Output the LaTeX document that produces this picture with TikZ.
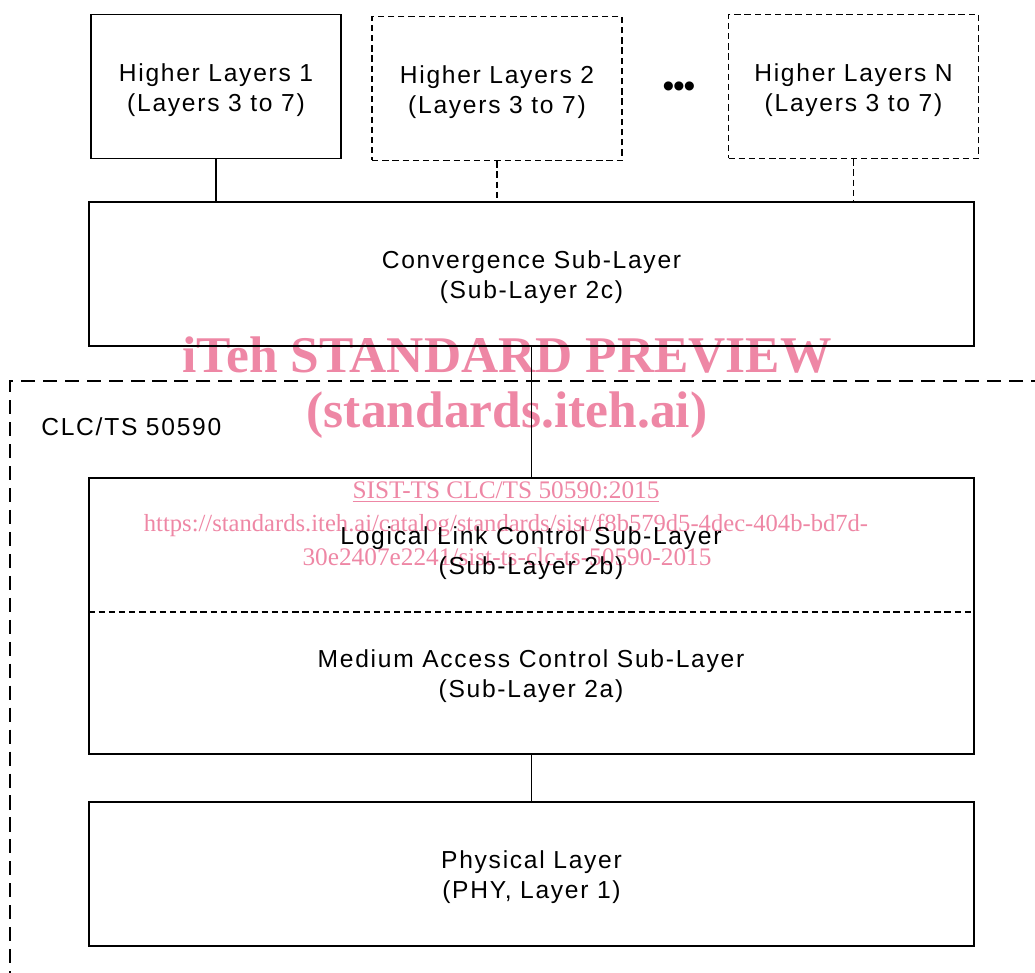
\documentclass[tikz,border=0pt]{standalone}
\usepackage{fontspec}
\setmainfont{Liberation Sans}
\newfontfamily\marcafont{Liberation Serif}
\definecolor{rosa}{RGB}{238,135,165}
\begin{document}
\begin{tikzpicture}[x=0.02cm, y=-0.02cm,
    texto/.style={align=center, inner sep=0pt,
      font=\fontsize{14}{17}\selectfont\addfontfeatures{LetterSpace=7}},
    bajo/.style={execute at begin node={\rule{0pt}{31pt}}},
    capa/.style={texto, bajo, rectangle, draw, line width=0.8pt},
    alta/.style={capa, minimum width=5cm, minimum height=2.88cm},
    ancha/.style={capa, minimum width=17.7cm, minimum height=2.88cm},
    discont/.style={dash pattern=on 3.6pt off 2.2pt},
    enlace/.style={line width=0.8pt},
    region/.style={line width=0.8pt, dash pattern=on 8pt off 4.5pt},
    marca/.style={text=rosa, inner sep=0pt, align=center}]
  \useasboundingbox (0,0) rectangle (1035,973);
  % marca de agua
  \node[marca, font=\marcafont\bfseries\fontsize{29.3}{31}\selectfont] (wm1) at (507,355) {iTeh STANDARD PREVIEW};
  \node[marca, font=\marcafont\bfseries\fontsize{29.3}{31}\selectfont] (wm2) at (507,415) {(standards.iteh.ai)};
  \node[marca, font=\marcafont\fontsize{14.4}{16}\selectfont] (wm3) at (506,492) {\underline{SIST-TS CLC/TS 50590:2015}};
  \node[marca, font=\marcafont\fontsize{14}{16}\selectfont] (wm4) at (506,525) {https://standards.iteh.ai/catalog/standards/sist/f8b579d5-4dec-404b-bd7d-};
  \node[marca, font=\marcafont\fontsize{14.4}{16}\selectfont] (wm5) at (507,557) {30e2407e2241/sist-ts-clc-ts-50590-2015};
  % capas superiores
  \node[alta] (hl1) at (216,86.5) {Higher Layers 1\\(Layers 3 to 7)};
  \node[alta, discont] (hl2) at (497,88.5) {Higher Layers 2\\(Layers 3 to 7)};
  \node[alta, discont] (hln) at (853.5,86.5) {Higher Layers N\\(Layers 3 to 7)};
  \node[inner sep=0pt, font=\fontsize{19}{19}\selectfont] (puntos) at (679,90) {\textbullet\kern-0.7pt\textbullet\kern-0.7pt\textbullet};
  \node[ancha] (conv) at (531.5,274) {Convergence Sub-Layer\\(Sub-Layer 2c)};
  % capa 2
  \draw[region] (1045,381) -- (10,381) -- (10,985);
  \node[texto, anchor=west] (clc) at (41,427) {CLC/TS 50590};
  \node[capa, minimum width=17.7cm, minimum height=5.52cm] (llcmac) at (531.5,616) {};
  \node[texto, bajo] (llc) at (531,550) {Logical Link Control Sub-Layer\\(Sub-Layer 2b)};
  \node[texto, bajo] (mac) at (531,673) {Medium Access Control Sub-Layer\\(Sub-Layer 2a)};
  \draw[enlace, discont] (llcmac.west |- 0,612) -- (llcmac.east |- 0,612);
  \node[ancha] (phy) at (531.5,874) {Physical Layer\\(PHY, Layer 1)};
  % conexiones
  \draw[enlace] (hl1.south) -- (hl1.south |- conv.north);
  \draw[enlace, discont] (hl2.south) -- (hl2.south |- conv.north);
  \draw[enlace, discont] (hln.south) -- (hln.south |- conv.north);
  \draw[enlace] (conv.south) -- (llcmac.north);
  \draw[enlace] (llcmac.south) -- (phy.north);
\end{tikzpicture}
\end{document}
